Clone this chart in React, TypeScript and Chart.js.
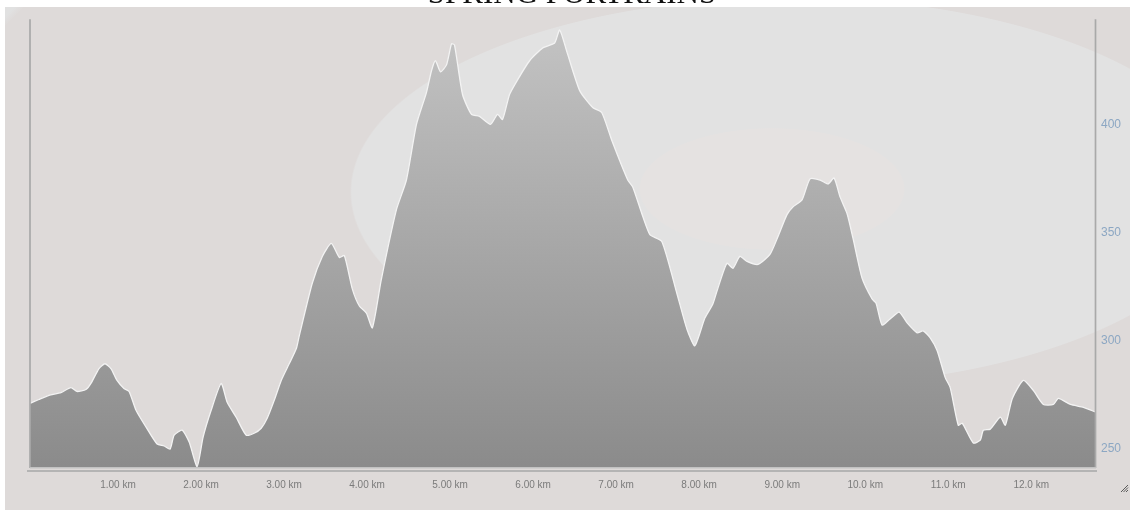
import React, { useEffect, useRef } from "react";
import { Chart, registerables } from "chart.js";

Chart.register(...registerables);

const titleText = "SPRING PORTRAINS";

const distances = [
  -0.06, 0.047, 0.168, 0.313, 0.433, 0.505, 0.614, 0.674, 0.771, 0.843, 0.915, 0.988,
  1.072, 1.133, 1.217, 1.338, 1.471, 1.555, 1.628, 1.676, 1.772, 1.857, 1.953, 2.025,
  2.122, 2.242, 2.315, 2.423, 2.544, 2.64, 2.725, 2.797, 2.882, 2.966, 3.062, 3.147,
  3.183, 3.34, 3.461, 3.569, 3.666, 3.726, 3.823, 3.907, 3.992, 4.064, 4.172, 4.353,
  4.474, 4.595, 4.715, 4.776, 4.824, 4.884, 4.957, 5.017, 5.053, 5.15, 5.258, 5.354,
  5.487, 5.571, 5.632, 5.716, 5.813, 5.958, 6.115, 6.259, 6.32, 6.404, 6.561, 6.718,
  6.826, 6.947, 7.14, 7.2, 7.405, 7.55, 7.731, 7.852, 7.948, 8.069, 8.165, 8.214,
  8.334, 8.407, 8.491, 8.576, 8.709, 8.853, 8.95, 9.058, 9.131, 9.239, 9.336, 9.456,
  9.553, 9.625, 9.697, 9.782, 9.854, 9.963, 10.083, 10.131, 10.203, 10.3, 10.409, 10.505,
  10.626, 10.698, 10.783, 10.867, 10.964, 11.024, 11.121, 11.169, 11.302, 11.386, 11.423, 11.507,
  11.627, 11.688, 11.772, 11.905, 12.025, 12.146, 12.267, 12.327, 12.472, 12.629, 12.78,
];

const elevations = [
  271.1, 272.9, 274.8, 276.1, 278.4, 276.6, 277.5, 280.3, 287.2, 289.4, 287.2, 281.7,
  278.0, 276.6, 267.9, 260.1, 252.3, 251.4, 250.0, 256.4, 258.7, 253.2, 241.9, 255.5,
  267.9, 280.3, 271.6, 264.7, 256.4, 257.3, 259.6, 264.2, 272.5, 281.7, 289.4, 296.3,
  302.3, 326.6, 339.0, 345.0, 338.5, 339.4, 323.9, 316.1, 312.8, 306.0, 328.4, 360.5,
  374.3, 400.0, 414.7, 424.8, 429.4, 424.3, 427.5, 437.2, 436.7, 413.8, 404.6, 403.7,
  400.0, 404.6, 402.3, 413.8, 420.6, 429.4, 435.3, 437.6, 443.6, 433.9, 415.6, 407.8,
  405.5, 392.7, 374.3, 371.1, 349.1, 345.9, 322.0, 305.5, 297.7, 310.5, 317.0, 322.9,
  335.8, 333.5, 339.0, 336.7, 335.3, 339.9, 348.2, 358.3, 361.9, 365.1, 374.8, 374.3,
  372.5, 375.2, 366.5, 358.7, 347.2, 328.9, 319.3, 317.4, 307.3, 310.1, 313.3, 308.3,
  303.7, 304.6, 301.4, 295.4, 283.0, 278.4, 261.0, 261.9, 252.8, 254.1, 258.7, 259.2,
  264.7, 261.0, 273.4, 281.7, 277.1, 270.6, 270.6, 273.4, 270.6, 269.3, 267.0,
];

const xTickValues = [1, 2, 3, 4, 5, 6, 7, 8, 9, 10, 11, 12];
const yTickValues = [250, 300, 350, 400];

const formatKm = (v: number) => (v < 10 ? v.toFixed(2) : v.toFixed(1)) + " km";

const framePlugin = {
  id: "frame",
  afterDraw(chart: any) {
    const { ctx, chartArea, width, height } = chart;
    const { left, right, top, bottom } = chartArea;
    ctx.save();
    ctx.strokeStyle = "#a9a9a9";
    ctx.lineWidth = 1.7;
    ctx.beginPath();
    ctx.moveTo(left, top);
    ctx.lineTo(left, bottom + 1);
    ctx.moveTo(right - 0.5, top);
    ctx.lineTo(right - 0.5, bottom + 1);
    ctx.stroke();
    ctx.strokeStyle = "#c2c2c2";
    ctx.lineWidth = 1.5;
    ctx.beginPath();
    ctx.moveTo(left, bottom + 0.75);
    ctx.lineTo(right, bottom + 0.75);
    ctx.stroke();
    ctx.strokeStyle = "#b4b4b4";
    ctx.lineWidth = 2;
    ctx.beginPath();
    ctx.moveTo(left - 3, bottom + 4);
    ctx.lineTo(right + 1, bottom + 4);
    ctx.stroke();
    const gx = width - 2;
    const gy = height - 2;
    ctx.strokeStyle = "#5a5a5a";
    ctx.lineWidth = 1;
    ctx.beginPath();
    ctx.moveTo(gx, gy - 7);
    ctx.lineTo(gx - 7, gy);
    ctx.moveTo(gx, gy - 4.5);
    ctx.lineTo(gx - 4.5, gy);
    ctx.moveTo(gx, gy - 2);
    ctx.lineTo(gx - 2, gy);
    ctx.stroke();
    ctx.restore();
  },
};

export default function App() {
  const ref = useRef<HTMLCanvasElement>(null);

  useEffect(() => {
    const canvas = ref.current;
    if (!canvas) return;
    const chart = new Chart(canvas, {
      type: "line",
      data: {
        datasets: [
          {
            data: distances.map((d, i) => ({ x: d, y: elevations[i] })),
            fill: "start",
            backgroundColor: (c: any) => {
              const { ctx, chartArea } = c.chart;
              if (!chartArea) return "#a8a8a8";
              const g = ctx.createLinearGradient(0, chartArea.top, 0, chartArea.bottom);
              g.addColorStop(0, "#c4c4c4");
              g.addColorStop(1, "#8b8b8b");
              return g;
            },
            borderColor: "#f3f3f3",
            borderWidth: 1.3,
            pointRadius: 0,
            tension: 0.2,
          },
        ],
      },
      options: {
        animation: false,
        responsive: false,
        devicePixelRatio: 1,
        layout: { padding: { left: 25, top: 9, right: 0, bottom: 0 } },
        plugins: {
          legend: { display: false },
          tooltip: { enabled: false },
          title: { display: false },
        },
        scales: {
          x: {
            type: "linear",
            min: -0.06,
            max: 12.78,
            grid: { display: false, drawTicks: false },
            border: { display: false },
            ticks: {
              padding: 12,
              color: "#7b7b7b",
              autoSkip: false,
              maxRotation: 0,
              font: { family: "'Liberation Sans', Arial, sans-serif", size: 10 },
              callback: (v: any) => formatKm(Number(v)),
            },
            afterBuildTicks: (s: any) => {
              s.ticks = xTickValues.map((v) => ({ value: v }));
            },
            afterFit: (s: any) => {
              s.height = 27;
            },
          },
          y: {
            type: "linear",
            position: "right",
            min: 241.7,
            max: 448.6,
            grid: { display: false, drawTicks: false },
            border: { display: false },
            ticks: {
              padding: 5,
              color: "#8ca7c3",
              font: { family: "'Liberation Sans', Arial, sans-serif", size: 12 },
            },
            afterBuildTicks: (s: any) => {
              s.ticks = yTickValues.map((v) => ({ value: v }));
            },
            afterFit: (s: any) => {
              s.width = 34;
            },
          },
        },
      },
      plugins: [framePlugin],
    } as any);
    return () => chart.destroy();
  }, []);

  const bg = [
    "radial-gradient(133px 61px at 767px 182px, #e5e2e1 99%, rgba(229,226,225,0) 100%)",
    "radial-gradient(440px 195px at 785px 185px, #e2e2e2 99.6%, rgba(226,226,226,0) 100%)",
    "linear-gradient(135deg, #e1e1e1 0px, #e1e1e1 7px, rgba(222,218,217,0) 14px)",
  ].join(", ");

  return (
    <div
      style={{
        position: "fixed",
        left: 0,
        top: 0,
        width: 1130,
        height: 510,
        overflow: "hidden",
        background: "#ffffff",
      }}
    >
      <div
        style={{
          position: "absolute",
          left: 5,
          top: 7,
          width: 1125,
          height: 503,
          backgroundColor: "#dedad9",
          backgroundImage: bg,
        }}
      >
        <canvas ref={ref} width={1125} height={487} style={{ display: "block" }} />
      </div>
      <div
        style={{
          position: "absolute",
          top: -23,
          left: 0,
          width: 1144,
          textAlign: "center",
          fontFamily: "'Liberation Serif', 'Times New Roman', serif",
          fontSize: 31,
          lineHeight: "31px",
          whiteSpace: "nowrap",
          color: "#111",
          zIndex: 3,
        }}
      >
        {titleText}
      </div>
    </div>
  );
}
